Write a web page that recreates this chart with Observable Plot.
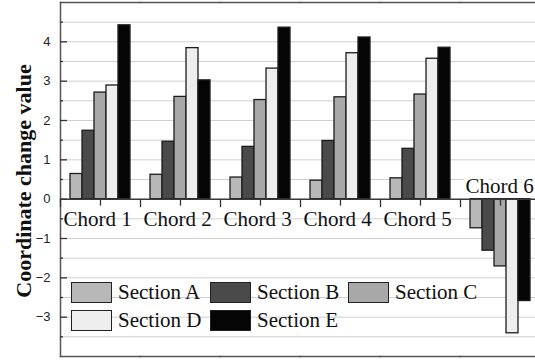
<!DOCTYPE html>
<html><head><meta charset="utf-8">
<script src="https://cdn.jsdelivr.net/npm/d3@7"></script>
<script src="https://cdn.jsdelivr.net/npm/@observablehq/plot@0.6"></script>
<style>
body{margin:0;background:#fff;overflow:hidden}
#wrap{position:relative;width:535px;height:362px;overflow:hidden}
#ytitle{position:absolute;left:24px;top:181px;transform:translate(-50%,-50%) rotate(-90deg);font:bold 22px "Liberation Serif","Times New Roman",serif;white-space:nowrap;color:#111}
.leg{position:absolute;display:flex;align-items:center;font:21px "Liberation Serif","Times New Roman",serif;color:#111;white-space:nowrap}
.sw{width:39px;height:19px;border:1.3px solid #222;margin-right:6px}
</style></head><body><div id="wrap"></div>
<script>
const chords = ["Chord 1","Chord 2","Chord 3","Chord 4","Chord 5","Chord 6"];
const sections = ["Section A","Section B","Section C","Section D","Section E"];
const colors = ["#b8b8b8","#4a4a4a","#a8a8a8","#eeeeee","#050505"];
const sectionA = [0.64, 0.62, 0.55, 0.47, 0.53, -0.74];
const sectionB = [1.74, 1.46, 1.33, 1.48, 1.28, -1.31];
const sectionC = [2.71, 2.60, 2.52, 2.59, 2.66, -1.71];
const sectionD = [2.89, 3.84, 3.32, 3.71, 3.57, -3.41];
const sectionE = [4.42, 3.02, 4.36, 4.11, 3.85, -2.59];
const yTicks = [-3, -2, -1, 0, 1, 2, 3, 4];
const yMinor = [-3.5, -2.5, -1.5, -0.5, 0.5, 1.5, 2.5, 3.5, 4.5];
const gridLines = [-3.5, -3, -2.5, -2, -1.5, -1, -0.5, 0.5, 1, 1.5, 2, 2.5, 3, 3.5, 4, 4.5];
const legendPos = [[71,280],[210,280],[348,280],[71,308],[210,308]];

const series = [sectionA, sectionB, sectionC, sectionD, sectionE];
const rows = [];
chords.forEach((c, i) => sections.forEach((s, j) => rows.push({chord: c, section: s, value: series[j][i]})));
const serif = "Liberation Serif, Times New Roman, serif";

const plot = Plot.plot({
  width: 535, height: 362,
  marginLeft: 60, marginRight: -5, marginTop: 2, marginBottom: 6,
  fx: {domain: chords, paddingInner: 0, paddingOuter: 0, axis: null},
  x: {domain: sections, paddingInner: 0, paddingOuter: 0.58, axis: null},
  y: {domain: [-4, 5], axis: null},
  color: {domain: sections, range: colors},
  style: {background: "transparent"},
  marks: [
    Plot.ruleY(gridLines, {stroke: "#d0d0d0", strokeWidth: 1}),
    Plot.barY(rows, {fx: "chord", x: "section", y: "value", fill: "section", stroke: "#1c1c1c", strokeWidth: 1.3}),
    Plot.ruleY([0], {stroke: "#3a3a3a", strokeWidth: 1.5}),
    Plot.frame({anchor: "top", stroke: "#555", strokeWidth: 1.5}),
    Plot.frame({anchor: "bottom", stroke: "#555", strokeWidth: 1.5}),
    Plot.frame({anchor: "left", stroke: "#555", strokeWidth: 1.5, facetAnchor: "left"}),
    Plot.frame({anchor: "left", stroke: "#333", strokeWidth: 1.3, insetTop: 197, insetBottom: 150}),
    Plot.ruleX(rows, {filter: d => d.section === "Section C", fx: "chord", x: "section", y1: 0, y2: 0, insetBottom: -7, stroke: "#333", strokeWidth: 1.3}),
    Plot.tickY(yTicks, {y: d => d, facetAnchor: "left", insetRight: 73, stroke: "#333", strokeWidth: 1.3}),
    Plot.tickY(yMinor, {y: d => d, facetAnchor: "left", insetRight: 77, stroke: "#333", strokeWidth: 1.3}),
    Plot.axisY(yTicks, {tickSize: 0, tickPadding: 10, fontSize: 13, fontFamily: "Liberation Sans, Arial, sans-serif", fill: "#222", label: null}),
    Plot.text(rows, {filter: d => d.section === "Section C" && d.chord !== "Chord 6", fx: "chord", x: "section", y: 0, text: "chord", dy: 20, dx: -3, fontSize: 21, fontFamily: serif, fill: "#111"}),
    Plot.text(rows, {filter: d => d.section === "Section C" && d.chord === "Chord 6", fx: "chord", x: "section", y: 0, text: "chord", dy: -13, dx: -1, fontSize: 21, fontFamily: serif, fill: "white", stroke: "white", strokeWidth: 8}),
    Plot.text(rows, {filter: d => d.section === "Section C" && d.chord === "Chord 6", fx: "chord", x: "section", y: 0, text: "chord", dy: -13, dx: -1, fontSize: 21, fontFamily: serif, fill: "#111"})
  ]
});

const wrap = document.getElementById("wrap");
wrap.appendChild(plot);
const yt = document.createElement("div");
yt.id = "ytitle";
yt.textContent = "Coordinate change value";
wrap.appendChild(yt);
sections.forEach((s, i) => {
  const el = document.createElement("div");
  el.className = "leg";
  el.style.left = legendPos[i][0] + "px";
  el.style.top = legendPos[i][1] + "px";
  const sw = document.createElement("div");
  sw.className = "sw";
  sw.style.background = colors[i];
  const t = document.createElement("span");
  t.textContent = s;
  el.appendChild(sw); el.appendChild(t);
  wrap.appendChild(el);
});
</script></body></html>
